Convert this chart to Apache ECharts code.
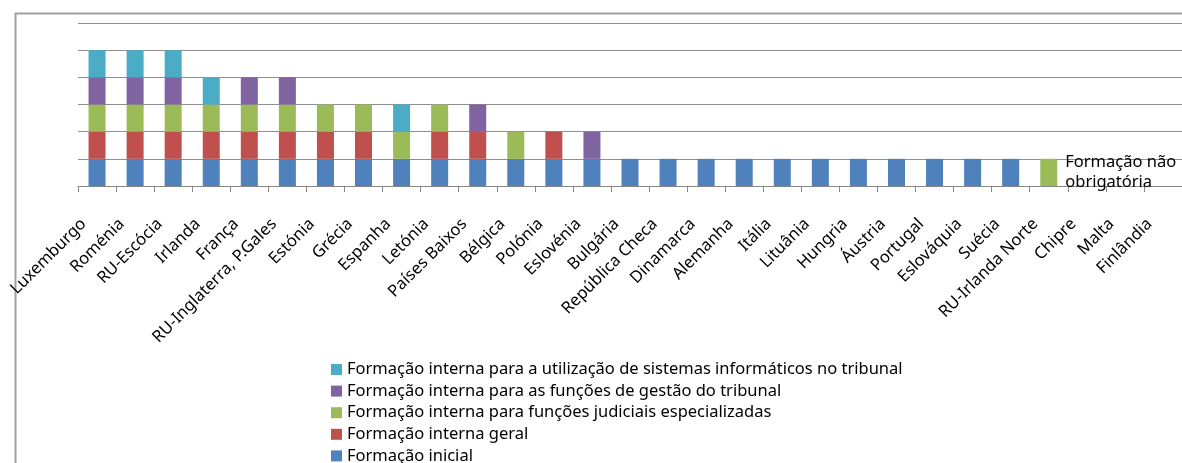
<!DOCTYPE html>
<html>
<head>
<meta charset="utf-8">
<title>Formação</title>
<script src="https://cdn.jsdelivr.net/npm/echarts@6/dist/echarts.min.js"></script>
<style>
  html, body { margin: 0; padding: 0; background: #fff; }
  #chart { width: 1182px; height: 463px; }
</style>
</head>
<body>
<div id="chart"></div>
<script>
const paises = [
  'Luxemburgo', 'Roménia', 'RU-Escócia', 'Irlanda', 'França', 'RU-Inglaterra, P.Gales',
  'Estónia', 'Grécia', 'Espanha', 'Letónia', 'Países Baixos', 'Bélgica', 'Polónia',
  'Eslovénia', 'Bulgária', 'República Checa', 'Dinamarca', 'Alemanha', 'Itália',
  'Lituânia', 'Hungria', 'Áustria', 'Portugal', 'Eslováquia', 'Suécia',
  'RU-Irlanda Norte', 'Chipre', 'Malta', 'Finlândia'
];

// 1 = existe, 0 = não existe
const inicial        = [1,1,1,1,1,1,1,1,1,1,1,1,1,1,1,1,1,1,1,1,1,1,1,1,1,0,0,0,0];
const geral          = [1,1,1,1,1,1,1,1,0,1,1,0,1,0,0,0,0,0,0,0,0,0,0,0,0,0,0,0,0];
const especializadas = [1,1,1,1,1,1,1,1,1,1,0,1,0,0,0,0,0,0,0,0,0,0,0,0,0,1,0,0,0];
const gestao         = [1,1,1,0,1,1,0,0,0,0,1,0,0,1,0,0,0,0,0,0,0,0,0,0,0,0,0,0,0];
const informaticos   = [1,1,1,1,0,0,0,0,1,0,0,0,0,0,0,0,0,0,0,0,0,0,0,0,0,0,0,0,0];

const nomes = [
  'Formação inicial',
  'Formação interna geral',
  'Formação interna para funções judiciais especializadas',
  'Formação interna para as funções de gestão do tribunal',
  'Formação interna para a utilização de sistemas informáticos no tribunal'
];
const cores = ['#4F81BD', '#C0504D', '#9BBB59', '#8064A2', '#4BACC6'];

// nota junto à barra verde isolada
const notaPais = 'RU-Irlanda Norte';
const notaTexto = 'Formação não\nobrigatória';

const fonte = '"Noto Sans", sans-serif';
const tamanho = 16.5;

const makeData = (values, withNote) => values.map((v, i) => {
  if (withNote && paises[i] === notaPais) {
    return {
      value: v,
      label: {
        show: true,
        position: 'right',
        distance: 8,
        formatter: notaTexto,
        color: '#000',
        fontFamily: fonte,
        fontSize: tamanho,
        lineHeight: 20,
        align: 'left'
      }
    };
  }
  return v;
});

const series = [inicial, geral, especializadas, gestao, informaticos].map((vals, k) => ({
  name: nomes[k],
  type: 'bar',
  stack: 'total',
  barWidth: 17,
  itemStyle: { color: cores[k] },
  data: makeData(vals, k === 2),
  animation: false
}));

const chart = echarts.init(document.getElementById('chart'), null, { renderer: 'canvas' });

chart.setOption({
  animation: false,
  backgroundColor: '#fff',
  textStyle: { fontFamily: fonte },
  grid: { left: 78, top: 23, width: 1111, height: 163, containLabel: false },
  legend: {
    orient: 'vertical',
    left: 326,
    top: 356,
    height: 200,
    itemWidth: 11,
    itemHeight: 11,
    itemGap: 4.6,
    icon: 'rect',
    data: nomes.slice().reverse(),
    textStyle: { fontFamily: fonte, fontSize: tamanho, color: '#000', lineHeight: 16 }
  },
  xAxis: {
    type: 'category',
    data: paises,
    axisLine: { lineStyle: { color: '#868686', width: 1 } },
    axisTick: { show: true, length: 6, lineStyle: { color: '#868686' } },
    axisLabel: {
      interval: 0,
      rotate: 45,
      margin: 22,
      padding: [0, 19, 0, 0],
      color: '#000',
      fontFamily: fonte,
      fontSize: tamanho
    }
  },
  yAxis: {
    type: 'value',
    min: 0,
    max: 6,
    interval: 1,
    axisLine: { show: false },
    axisTick: { show: false },
    axisLabel: { show: false },
    splitLine: { lineStyle: { color: '#8f8f8f', width: 1 } }
  },
  graphic: [{
    type: 'rect',
    left: 13,
    top: 11,
    shape: { width: 1400, height: 700 },
    style: { fill: 'none', stroke: '#a0a0a0', lineWidth: 2 },
    silent: true,
    z: -1
  }],
  series: series
});
</script>
</body>
</html>
